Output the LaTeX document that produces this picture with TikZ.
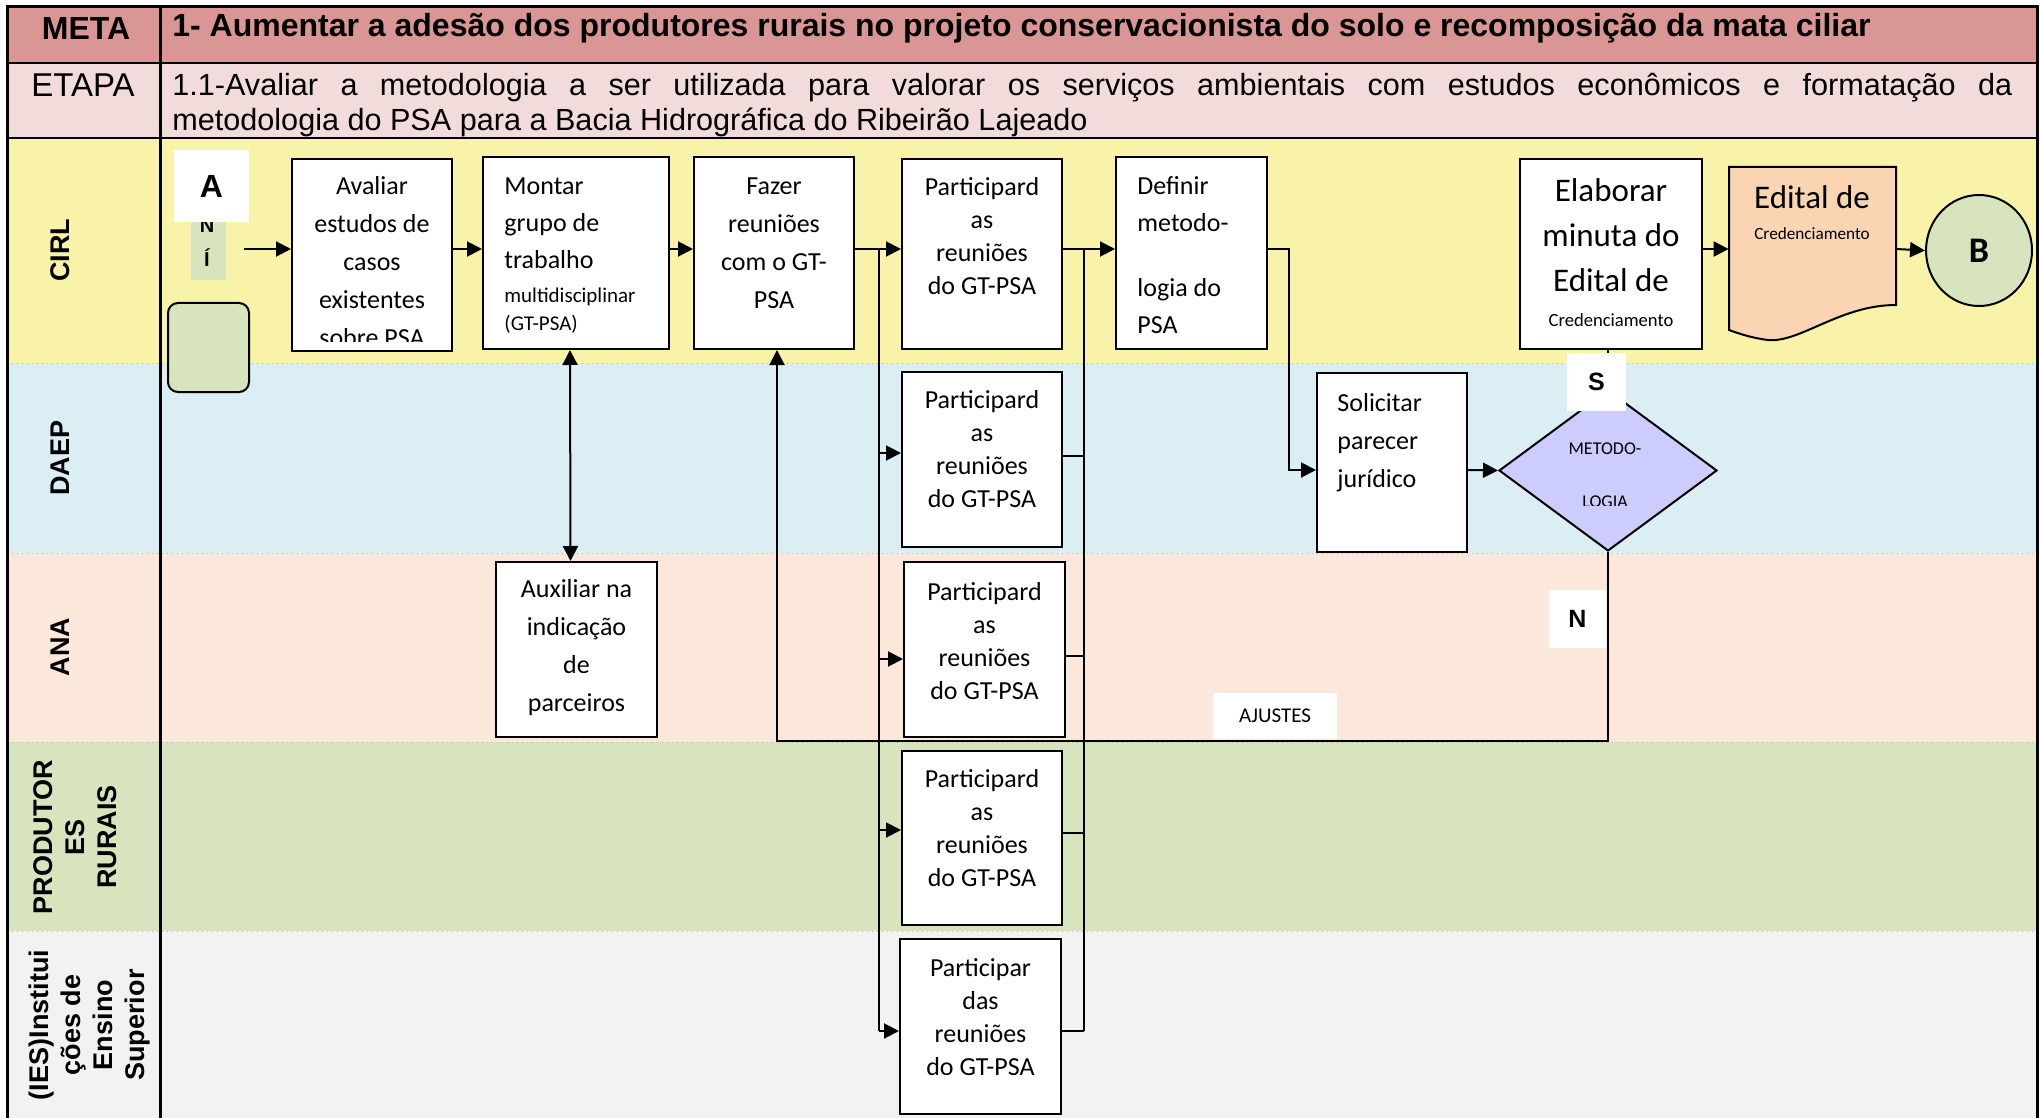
\documentclass[tikz,border=0pt]{standalone}
\usepackage{fontspec}
\setmainfont{Carlito}
\newfontfamily\arialfont{Liberation Sans}
\usetikzlibrary{arrows.meta, calc, shapes.geometric}

\definecolor{metarose}{HTML}{D99694}
\definecolor{etaparose}{HTML}{F2DCDB}
\definecolor{cirlyellow}{HTML}{F8F3A8}
\definecolor{daepblue}{HTML}{DAEEF3}
\definecolor{anapeach}{HTML}{FCE8DA}
\definecolor{prodgreen}{HTML}{D7E4BD}
\definecolor{iesgrey}{HTML}{F2F2F2}
\definecolor{greenfill}{HTML}{D7E4BD}
\definecolor{lavender}{HTML}{CCCCFF}
\definecolor{docfill}{HTML}{FBD4B4}

\begin{document}
\begin{tikzpicture}[x=0.5pt, y=-0.5pt,
    box/.style={draw, line width=1pt, fill=white, inner sep=0pt},
    txt/.style={inner sep=0pt, align=center, font=\fontsize{13}{19}\selectfont},
    ptxt/.style={inner sep=0pt, align=center, font=\fontsize{13}{16.5}\selectfont},
    arr/.style={line width=1pt, -{Triangle[length=7.5pt, width=7.5pt]}},
    dbl/.style={line width=1pt, {Triangle[length=7.5pt, width=7.5pt]}-{Triangle[length=7.5pt, width=7.5pt]}},
    lnk/.style={line width=1pt},
    lane/.style={rotate=90, align=center, inner sep=0pt, font=\arialfont\bfseries\fontsize{13.5}{16}\selectfont},
    tag/.style={fill=white, inner sep=0pt, font=\arialfont\bfseries\fontsize{12.5}{14}\selectfont}]
    \useasboundingbox (0,0) rectangle (2040,1118);
    \fill[white] (0,0) rectangle (2040,1118);

    % header rows and lanes
    \fill[metarose] (7,7) rectangle (2037,63);
    \fill[etaparose] (7,63) rectangle (2037,138);
    \fill[cirlyellow] (7,138) rectangle (2037,363);
    \fill[daepblue] (7,363) rectangle (2037,553);
    \fill[anapeach] (7,553) rectangle (2037,742);
    \fill[prodgreen] (7,742) rectangle (2037,931);
    \fill[iesgrey] (7,931) rectangle (2037,1118);
    \draw[gray!60, dotted, line width=0.5pt] (7,363) -- (2037,363);
    \draw[gray!60, dotted, line width=0.5pt] (7,553) -- (2037,553);
    \draw[gray!60, dotted, line width=0.5pt] (7,742) -- (2037,742);
    \draw[gray!60, dotted, line width=0.5pt] (7,931) -- (2037,931);
    \draw[line width=1.5pt] (7,1118) -- (7,7) -- (2037,7) -- (2037,1118);
    \draw[line width=1.2pt] (7,63) -- (2037,63);
    \draw[line width=1.2pt] (7,138) -- (2037,138);
    \draw[line width=1.5pt] (160,7) -- (160,1118);

    \node[inner sep=0pt, font=\arialfont\bfseries\fontsize{16}{18}\selectfont] (metaH) at (86,28) {META};
    \node[anchor=west, inner sep=0pt, font=\arialfont\bfseries\fontsize{16}{18}\selectfont] (metaT) at (172,28) {1- Aumentar a adesão dos produtores rurais no projeto conservacionista do solo e recomposição da mata ciliar};
    \node[inner sep=0pt, font=\arialfont\fontsize{16.5}{18}\selectfont] (etapaH) at (83,85) {ETAPA};
    \node[anchor=north west, inner sep=0pt, text width=920pt, align=justify, font=\arialfont\fontsize{15.3}{17.5}\selectfont] (etapaT) at (172,73) {1.1-Avaliar a metodologia a ser utilizada para valorar os serviços ambientais com estudos econômicos e formatação da\linebreak metodologia do PSA para a Bacia Hidrográfica do Ribeirão Lajeado};

    \node[lane] (cirlL) at (60,250) {CIRL};
    \node[lane] (daepL) at (60,458) {DAEP};
    \node[lane] (anaL) at (60,647) {ANA};
    \node[lane] (prodL) at (75,837) {PRODUTOR\\ES\\RURAIS};
    \node[lane] (iesL) at (90,1025) {(IES)Institui\\ções de\\Ensino\\Superior};

    % start
    \node[fill=greenfill, minimum width=17.5pt, minimum height=37.5pt, inner sep=0pt] (strip) at (208.5,242.5) {};
    \node[inner sep=0pt, align=center, font=\arialfont\bfseries\fontsize{10}{17}\selectfont] (stripT) at (207,243) {N\\Í};
    \node[fill=white, minimum width=37.5pt, minimum height=36pt, inner sep=0pt, font=\arialfont\bfseries\fontsize{16}{18}\selectfont] (letterA) at (211.5,186) {A};
    \node[draw, line width=1pt, fill=greenfill, rounded corners=5pt, minimum width=40.5pt, minimum height=44.5pt] (startbox) at (208.5,347.5) {};
    \coordinate (ini) at (244,249);

    % boxes
    \node[box, minimum width=80pt, minimum height=96pt] (avaliar) at (372,255) {};
    \begin{scope}
      \clip (292,159) rectangle (452,341);
      \node[txt] (avaliarT) at (372,262) {Avaliar\\estudos de\\casos\\existentes\\sobre PSA};
    \end{scope}
    \node[box, minimum width=93pt, minimum height=96pt] (montar) at (576,253) {};
    \node[txt, anchor=west, align=left, font=\fontsize{13}{18.5}\selectfont] (montarT) at (504,256) {Montar\\grupo de\\trabalho\\[-1.5pt]{\fontsize{10.5}{12}\selectfont multidisciplinar}\\[-4.5pt]{\fontsize{10.5}{12}\selectfont (GT-PSA)}};
    \node[box, minimum width=80pt, minimum height=96pt] (fazer) at (774,253) {};
    \node[txt] (fazerT) at (774,243) {Fazer\\reuniões\\com o GT-\\PSA};
    \node[box, minimum width=80pt, minimum height=95pt] (partC) at (982,254) {};
    \node[ptxt] (partCT) at (982,236) {Participard\\as\\reuniões\\do GT-PSA};
    \node[box, minimum width=75.5pt, minimum height=96pt] (definir) at (1191.5,253) {};
    \node[txt, anchor=west, align=left, font=\fontsize{13}{18.5}\selectfont] (definirT) at (1137,255) {Definir\\metodo-\\[14pt]logia do\\PSA};
    \node[box, minimum width=80pt, minimum height=87.5pt] (partD) at (982,459.5) {};
    \node[ptxt] (partDT) at (982,449) {Participard\\as\\reuniões\\do GT-PSA};
    \node[box, minimum width=75pt, minimum height=89.5pt] (solicitar) at (1392,462.5) {};
    \node[txt, anchor=west, align=left] (solicitarT) at (1337,443) {Solicitar\\parecer\\jurídico};
    \node[box, minimum width=80.5pt, minimum height=87.5pt] (auxiliar) at (576.5,649.5) {};
    \node[txt] (auxiliarT) at (576.5,648) {Auxiliar na\\indicação\\de\\parceiros};
    \node[box, minimum width=80.5pt, minimum height=87.5pt] (partA) at (984.5,649.5) {};
    \node[ptxt] (partAT) at (984.5,641) {Participard\\as\\reuniões\\do GT-PSA};
    \node[box, minimum width=80pt, minimum height=87pt] (partP) at (982,838) {};
    \node[ptxt] (partPT) at (982,828) {Participard\\as\\reuniões\\do GT-PSA};
    \node[box, minimum width=80.5pt, minimum height=87.5pt] (partI) at (980.5,1026.5) {};
    \node[ptxt] (partIT) at (980.5,1017) {Participar\\das\\reuniões\\do GT-PSA};
    \node[box, minimum width=91pt, minimum height=95pt] (elaborar) at (1611,254) {};
    \node[txt, font=\fontsize{16.5}{22.5}\selectfont] (elaborarT) at (1611,253) {Elaborar\\minuta do\\Edital de\\[-5pt]{\fontsize{9.3}{11}\selectfont Credenciamento}};

    % decision
    \node[diamond, draw, line width=1pt, fill=lavender, minimum width=109pt, minimum height=80.5pt, inner sep=0pt] (metodo) at (1608,470.5) {};
    \begin{scope}
      \clip (1499,390) rectangle (1717,505);
      \node[txt, font=\fontsize{9}{26.5}\selectfont] (metodoT) at (1605,475) {METODO-\\LOGIA};
    \end{scope}

    % document and end
    \draw[line width=1pt, fill=docfill] (1729,167) -- (1896,167) -- (1896,305) .. controls (1840,305) and (1800,343) .. (1768,340) .. controls (1752,338) and (1740,334) .. (1729,330) -- cycle;
    \node[minimum width=83.5pt, minimum height=86.5pt, inner sep=0pt] (edital) at (1812.5,253.5) {};
    \node[txt, font=\fontsize{16.5}{15.5}\selectfont] (editalT) at (1812,213) {Edital de\\{\fontsize{8.6}{10}\selectfont Credenciamento}};
    \node[ellipse, draw, line width=1pt, fill=greenfill, minimum width=53pt, minimum height=55.5pt, inner sep=0pt, font=\bfseries\fontsize{18}{20}\selectfont] (bEnd) at (1979,250.5) {B};

    % connectors
    \coordinate (bD) at (879,453);
    \coordinate (bA) at (879,659);
    \coordinate (bP) at (879,830);
    \coordinate (bI) at (879,1031);
    \coordinate (rD) at (1084,456);
    \coordinate (rA) at (1084,656);
    \coordinate (rP) at (1084,833);
    \coordinate (rI) at (1084,1031);
    \coordinate (dj) at (1289,470);
    \coordinate (aj) at (777,741);

    \draw[arr] (ini) -- (ini -| avaliar.west);
    \draw[arr] (avaliar.east |- ini) -- (montar.west |- ini);
    \draw[arr] (montar.east |- ini) -- (fazer.west |- ini);
    \draw[arr] (fazer.east |- ini) -- (partC.west |- ini);
    \draw[lnk] (bI |- ini) -- (bI);
    \draw[arr] (bD) -- (bD -| partD.west);
    \draw[arr] (bA) -- (bA -| partA.west);
    \draw[arr] (bP) -- (bP -| partP.west);
    \draw[arr] (bI) -- (bI -| partI.west);
    \draw[arr] (partC.east |- ini) -- (definir.west |- ini);
    \draw[lnk] (rI |- ini) -- (rI);
    \draw[lnk] (rD -| partD.east) -- (rD);
    \draw[lnk] (rA -| partA.east) -- (rA);
    \draw[lnk] (rP -| partP.east) -- (rP);
    \draw[lnk] (rI -| partI.east) -- (rI);
    \draw[arr] (definir.east |- ini) -| (dj) -- (dj -| solicitar.west);
    \draw[arr] (solicitar.east |- dj) -- (metodo.west);
    \draw[lnk] (metodo.north) -- (metodo.north |- elaborar.south);
    \draw[arr] (metodo.south) |- (aj) -- (aj |- fazer.south);
    \draw[dbl] ([xshift=-3pt]montar.south) -- ([xshift=-3pt]auxiliar.north);
    \draw[arr] (elaborar.east |- ini) -- (edital.west |- ini);
    \draw[arr] (edital.east |- ini) -- (bEnd.west);

    % labels on the flow
    \node[tag, minimum width=29.5pt, minimum height=29pt] (sTag) at (1596.5,382) {S};
    \node[tag, minimum width=28.5pt, minimum height=29pt] (nTag) at (1577.5,619) {N};
    \node[fill=white, inner sep=0pt, minimum width=62pt, minimum height=23pt, font=\fontsize{10.5}{12}\selectfont] (ajustes) at (1275,716) {AJUSTES};
\end{tikzpicture}
\end{document}
